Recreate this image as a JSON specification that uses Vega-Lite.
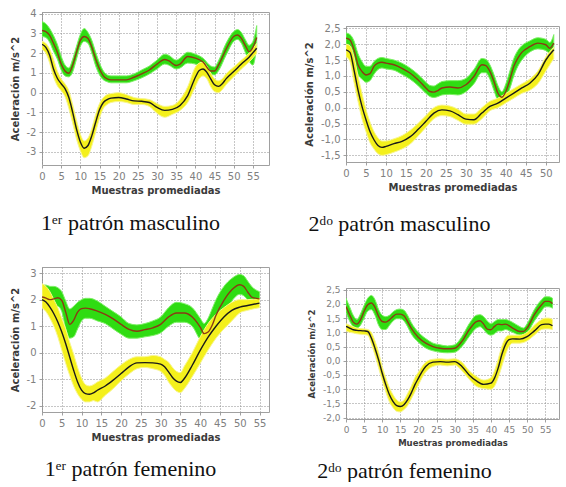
{
"$schema": "https://vega.github.io/schema/vega-lite/v6.json",
"background": "white",
"padding": {"left": 9, "top": 8, "right": 0, "bottom": 0},
"config": {
 "view": {"stroke": "#a0a0a0", "strokeWidth": 1},
 "axis": {"labelFont": "DejaVu Sans", "labelFontSize": 10, "labelColor": "#808080", "titleFont": "DejaVu Sans", "titleFontSize": 10, "titleFontWeight": "bold", "titleColor": "#3a3a3a", "grid": true, "gridColor": "#8c8c8c", "gridDash": [1, 2], "gridOpacity": 1, "gridWidth": 1, "domain": false, "tickColor": "#a0a0a0", "tickSize": 3, "labelPadding": 3, "labelOverlap": false},
 "axisX": {"labelFlush": false, "titlePadding": 4},
 "axisY": {"titlePadding": 6, "labelFlush": false},
 "title": {"font": "Liberation Serif", "fontSize": 22, "fontWeight": "normal", "color": "#111111"}
},
"datasets": {"d": [
{"p":1,"s":"g","x":0,"m":3.15,"lo":2.85,"hi":3.6},
{"p":1,"s":"g","x":1,"m":3.1,"lo":2.8,"hi":3.5},
{"p":1,"s":"g","x":2,"m":2.9,"lo":2.55,"hi":3.25},
{"p":1,"s":"g","x":3,"m":2.5,"lo":2.1,"hi":2.9},
{"p":1,"s":"g","x":4,"m":2.05,"lo":1.7,"hi":2.45},
{"p":1,"s":"g","x":5,"m":1.45,"lo":1.15,"hi":1.85},
{"p":1,"s":"g","x":6,"m":1.1,"lo":0.85,"hi":1.4},
{"p":1,"s":"g","x":7,"m":0.98,"lo":0.8,"hi":1.25},
{"p":1,"s":"g","x":8,"m":1.4,"lo":1.05,"hi":1.7},
{"p":1,"s":"g","x":9,"m":2.05,"lo":1.7,"hi":2.35},
{"p":1,"s":"g","x":10,"m":2.65,"lo":2.35,"hi":2.95},
{"p":1,"s":"g","x":11,"m":2.85,"lo":2.6,"hi":3.25},
{"p":1,"s":"g","x":12,"m":2.75,"lo":2.5,"hi":3.05},
{"p":1,"s":"g","x":13,"m":2.3,"lo":2.0,"hi":2.65},
{"p":1,"s":"g","x":14,"m":1.7,"lo":1.35,"hi":2.05},
{"p":1,"s":"g","x":15,"m":1.2,"lo":0.9,"hi":1.5},
{"p":1,"s":"g","x":16,"m":0.85,"lo":0.65,"hi":1.1},
{"p":1,"s":"g","x":17,"m":0.7,"lo":0.55,"hi":0.9},
{"p":1,"s":"g","x":18,"m":0.65,"lo":0.5,"hi":0.85},
{"p":1,"s":"g","x":20,"m":0.65,"lo":0.5,"hi":0.85},
{"p":1,"s":"g","x":22,"m":0.65,"lo":0.5,"hi":0.85},
{"p":1,"s":"g","x":24,"m":0.78,"lo":0.6,"hi":0.95},
{"p":1,"s":"g","x":26,"m":0.95,"lo":0.75,"hi":1.15},
{"p":1,"s":"g","x":28,"m":1.15,"lo":0.95,"hi":1.35},
{"p":1,"s":"g","x":30,"m":1.45,"lo":1.2,"hi":1.65},
{"p":1,"s":"g","x":32,"m":1.68,"lo":1.45,"hi":1.95},
{"p":1,"s":"g","x":33,"m":1.62,"lo":1.4,"hi":1.9},
{"p":1,"s":"g","x":35,"m":1.38,"lo":1.2,"hi":1.65},
{"p":1,"s":"g","x":36,"m":1.45,"lo":1.25,"hi":1.75},
{"p":1,"s":"g","x":38,"m":1.83,"lo":1.5,"hi":2.05},
{"p":1,"s":"g","x":40,"m":1.75,"lo":1.45,"hi":1.95},
{"p":1,"s":"g","x":42,"m":1.55,"lo":1.3,"hi":1.75},
{"p":1,"s":"g","x":44,"m":1.1,"lo":0.95,"hi":1.35},
{"p":1,"s":"g","x":45,"m":1.1,"lo":0.9,"hi":1.3},
{"p":1,"s":"g","x":46,"m":1.38,"lo":1.1,"hi":1.6},
{"p":1,"s":"g","x":48,"m":2.2,"lo":1.9,"hi":2.5},
{"p":1,"s":"g","x":50,"m":2.85,"lo":2.6,"hi":3.1},
{"p":1,"s":"g","x":51,"m":2.92,"lo":2.7,"hi":3.2},
{"p":1,"s":"g","x":52,"m":2.75,"lo":2.5,"hi":3.05},
{"p":1,"s":"g","x":53,"m":2.4,"lo":2.05,"hi":2.7},
{"p":1,"s":"g","x":54,"m":2.08,"lo":1.6,"hi":2.4},
{"p":1,"s":"g","x":55,"m":2.3,"lo":1.4,"hi":2.6},
{"p":1,"s":"g","x":56,"m":2.8,"lo":2.3,"hi":3.4},
{"p":1,"s":"y","x":0,"m":2.45,"lo":2.2,"hi":2.6},
{"p":1,"s":"y","x":1,"m":2.3,"lo":2.0,"hi":2.5},
{"p":1,"s":"y","x":2,"m":1.9,"lo":1.5,"hi":2.2},
{"p":1,"s":"y","x":3,"m":1.2,"lo":0.8,"hi":1.7},
{"p":1,"s":"y","x":4,"m":0.73,"lo":0.35,"hi":1.1},
{"p":1,"s":"y","x":5,"m":0.45,"lo":0.1,"hi":0.7},
{"p":1,"s":"y","x":6,"m":0.2,"lo":-0.2,"hi":0.45},
{"p":1,"s":"y","x":7,"m":-0.25,"lo":-0.8,"hi":0.1},
{"p":1,"s":"y","x":8,"m":-1.0,"lo":-1.55,"hi":-0.6},
{"p":1,"s":"y","x":9,"m":-1.85,"lo":-2.35,"hi":-1.4},
{"p":1,"s":"y","x":10,"m":-2.5,"lo":-2.95,"hi":-2.1},
{"p":1,"s":"y","x":11,"m":-2.82,"lo":-3.3,"hi":-2.45},
{"p":1,"s":"y","x":12,"m":-2.68,"lo":-3.2,"hi":-2.3},
{"p":1,"s":"y","x":13,"m":-2.18,"lo":-2.7,"hi":-1.8},
{"p":1,"s":"y","x":14,"m":-1.5,"lo":-2.0,"hi":-1.1},
{"p":1,"s":"y","x":15,"m":-0.87,"lo":-1.3,"hi":-0.55},
{"p":1,"s":"y","x":16,"m":-0.5,"lo":-0.8,"hi":-0.25},
{"p":1,"s":"y","x":17,"m":-0.35,"lo":-0.6,"hi":-0.1},
{"p":1,"s":"y","x":18,"m":-0.28,"lo":-0.5,"hi":-0.05},
{"p":1,"s":"y","x":20,"m":-0.25,"lo":-0.45,"hi":0.0},
{"p":1,"s":"y","x":22,"m":-0.32,"lo":-0.5,"hi":-0.1},
{"p":1,"s":"y","x":24,"m":-0.42,"lo":-0.6,"hi":-0.25},
{"p":1,"s":"y","x":26,"m":-0.44,"lo":-0.6,"hi":-0.3},
{"p":1,"s":"y","x":28,"m":-0.5,"lo":-0.7,"hi":-0.35},
{"p":1,"s":"y","x":30,"m":-0.75,"lo":-1.05,"hi":-0.55},
{"p":1,"s":"y","x":32,"m":-0.9,"lo":-1.25,"hi":-0.7},
{"p":1,"s":"y","x":34,"m":-0.85,"lo":-1.1,"hi":-0.65},
{"p":1,"s":"y","x":36,"m":-0.65,"lo":-0.9,"hi":-0.35},
{"p":1,"s":"y","x":38,"m":-0.15,"lo":-0.5,"hi":0.3},
{"p":1,"s":"y","x":40,"m":0.78,"lo":0.3,"hi":1.3},
{"p":1,"s":"y","x":41,"m":1.12,"lo":0.7,"hi":1.5},
{"p":1,"s":"y","x":42,"m":1.2,"lo":0.85,"hi":1.55},
{"p":1,"s":"y","x":43,"m":1.03,"lo":0.7,"hi":1.35},
{"p":1,"s":"y","x":44,"m":0.7,"lo":0.3,"hi":1.0},
{"p":1,"s":"y","x":45,"m":0.4,"lo":0.05,"hi":0.7},
{"p":1,"s":"y","x":46,"m":0.32,"lo":0.0,"hi":0.6},
{"p":1,"s":"y","x":47,"m":0.45,"lo":0.15,"hi":0.7},
{"p":1,"s":"y","x":48,"m":0.7,"lo":0.4,"hi":0.95},
{"p":1,"s":"y","x":50,"m":1.07,"lo":0.8,"hi":1.3},
{"p":1,"s":"y","x":52,"m":1.45,"lo":1.2,"hi":1.65},
{"p":1,"s":"y","x":54,"m":1.8,"lo":1.55,"hi":2.0},
{"p":1,"s":"y","x":56,"m":2.25,"lo":2.0,"hi":2.5},
{"p":2,"s":"g","x":0,"m":2.19,"lo":1.95,"hi":2.35},
{"p":2,"s":"g","x":1,"m":2.13,"lo":1.85,"hi":2.3},
{"p":2,"s":"g","x":2,"m":1.82,"lo":1.5,"hi":2.1},
{"p":2,"s":"g","x":3,"m":1.35,"lo":1.05,"hi":1.7},
{"p":2,"s":"g","x":4,"m":1.14,"lo":0.9,"hi":1.45},
{"p":2,"s":"g","x":5,"m":1.03,"lo":0.8,"hi":1.3},
{"p":2,"s":"g","x":6,"m":1.07,"lo":0.85,"hi":1.3},
{"p":2,"s":"g","x":7,"m":1.3,"lo":1.05,"hi":1.45},
{"p":2,"s":"g","x":8,"m":1.4,"lo":1.2,"hi":1.55},
{"p":2,"s":"g","x":9,"m":1.43,"lo":1.25,"hi":1.58},
{"p":2,"s":"g","x":10,"m":1.4,"lo":1.22,"hi":1.55},
{"p":2,"s":"g","x":12,"m":1.35,"lo":1.18,"hi":1.5},
{"p":2,"s":"g","x":14,"m":1.24,"lo":1.05,"hi":1.4},
{"p":2,"s":"g","x":16,"m":1.09,"lo":0.9,"hi":1.25},
{"p":2,"s":"g","x":18,"m":0.88,"lo":0.7,"hi":1.05},
{"p":2,"s":"g","x":20,"m":0.62,"lo":0.45,"hi":0.8},
{"p":2,"s":"g","x":21,"m":0.51,"lo":0.35,"hi":0.7},
{"p":2,"s":"g","x":22,"m":0.49,"lo":0.32,"hi":0.68},
{"p":2,"s":"g","x":23,"m":0.54,"lo":0.35,"hi":0.75},
{"p":2,"s":"g","x":24,"m":0.62,"lo":0.4,"hi":0.82},
{"p":2,"s":"g","x":26,"m":0.65,"lo":0.42,"hi":0.85},
{"p":2,"s":"g","x":28,"m":0.62,"lo":0.4,"hi":0.85},
{"p":2,"s":"g","x":30,"m":0.72,"lo":0.5,"hi":0.92},
{"p":2,"s":"g","x":32,"m":0.98,"lo":0.75,"hi":1.2},
{"p":2,"s":"g","x":34,"m":1.35,"lo":1.1,"hi":1.55},
{"p":2,"s":"g","x":35,"m":1.32,"lo":1.1,"hi":1.52},
{"p":2,"s":"g","x":36,"m":1.14,"lo":0.9,"hi":1.35},
{"p":2,"s":"g","x":37,"m":0.83,"lo":0.55,"hi":1.05},
{"p":2,"s":"g","x":38,"m":0.46,"lo":0.25,"hi":0.7},
{"p":2,"s":"g","x":39,"m":0.33,"lo":0.22,"hi":0.5},
{"p":2,"s":"g","x":40,"m":0.51,"lo":0.3,"hi":0.75},
{"p":2,"s":"g","x":41,"m":0.88,"lo":0.6,"hi":1.15},
{"p":2,"s":"g","x":42,"m":1.3,"lo":1.0,"hi":1.55},
{"p":2,"s":"g","x":43,"m":1.56,"lo":1.3,"hi":1.8},
{"p":2,"s":"g","x":44,"m":1.74,"lo":1.5,"hi":1.95},
{"p":2,"s":"g","x":46,"m":1.92,"lo":1.75,"hi":2.1},
{"p":2,"s":"g","x":48,"m":2.03,"lo":1.85,"hi":2.2},
{"p":2,"s":"g","x":50,"m":1.98,"lo":1.8,"hi":2.15},
{"p":2,"s":"g","x":51,"m":1.87,"lo":1.7,"hi":2.05},
{"p":2,"s":"g","x":52,"m":2.03,"lo":1.8,"hi":2.3},
{"p":2,"s":"y","x":0,"m":1.82,"lo":1.6,"hi":2.0},
{"p":2,"s":"y","x":1,"m":1.74,"lo":1.45,"hi":1.95},
{"p":2,"s":"y","x":2,"m":1.19,"lo":0.8,"hi":1.6},
{"p":2,"s":"y","x":3,"m":0.56,"lo":0.2,"hi":1.0},
{"p":2,"s":"y","x":4,"m":0.04,"lo":-0.35,"hi":0.45},
{"p":2,"s":"y","x":5,"m":-0.38,"lo":-0.75,"hi":-0.05},
{"p":2,"s":"y","x":6,"m":-0.75,"lo":-1.1,"hi":-0.45},
{"p":2,"s":"y","x":7,"m":-1.01,"lo":-1.3,"hi":-0.75},
{"p":2,"s":"y","x":8,"m":-1.19,"lo":-1.45,"hi":-0.95},
{"p":2,"s":"y","x":9,"m":-1.25,"lo":-1.5,"hi":-1.05},
{"p":2,"s":"y","x":10,"m":-1.22,"lo":-1.48,"hi":-1.05},
{"p":2,"s":"y","x":12,"m":-1.13,"lo":-1.4,"hi":-0.98},
{"p":2,"s":"y","x":14,"m":-1.06,"lo":-1.3,"hi":-0.88},
{"p":2,"s":"y","x":16,"m":-0.92,"lo":-1.15,"hi":-0.72},
{"p":2,"s":"y","x":18,"m":-0.69,"lo":-0.9,"hi":-0.5},
{"p":2,"s":"y","x":20,"m":-0.43,"lo":-0.62,"hi":-0.25},
{"p":2,"s":"y","x":22,"m":-0.17,"lo":-0.35,"hi":0.0},
{"p":2,"s":"y","x":24,"m":-0.07,"lo":-0.25,"hi":0.08},
{"p":2,"s":"y","x":26,"m":-0.1,"lo":-0.28,"hi":0.05},
{"p":2,"s":"y","x":28,"m":-0.22,"lo":-0.4,"hi":-0.05},
{"p":2,"s":"y","x":30,"m":-0.36,"lo":-0.52,"hi":-0.2},
{"p":2,"s":"y","x":32,"m":-0.38,"lo":-0.52,"hi":-0.2},
{"p":2,"s":"y","x":34,"m":-0.17,"lo":-0.35,"hi":0.0},
{"p":2,"s":"y","x":36,"m":0.04,"lo":-0.1,"hi":0.2},
{"p":2,"s":"y","x":38,"m":0.14,"lo":0.0,"hi":0.3},
{"p":2,"s":"y","x":40,"m":0.3,"lo":0.15,"hi":0.45},
{"p":2,"s":"y","x":42,"m":0.46,"lo":0.3,"hi":0.6},
{"p":2,"s":"y","x":44,"m":0.62,"lo":0.45,"hi":0.75},
{"p":2,"s":"y","x":46,"m":0.77,"lo":0.55,"hi":0.9},
{"p":2,"s":"y","x":48,"m":1.03,"lo":0.75,"hi":1.15},
{"p":2,"s":"y","x":50,"m":1.5,"lo":1.15,"hi":1.6},
{"p":2,"s":"y","x":52,"m":1.82,"lo":1.55,"hi":1.9},
{"p":3,"s":"g","x":0,"m":2.1,"lo":1.75,"hi":2.55},
{"p":3,"s":"g","x":1,"m":2.06,"lo":1.7,"hi":2.55},
{"p":3,"s":"g","x":2,"m":2.0,"lo":1.7,"hi":2.5},
{"p":3,"s":"g","x":3,"m":2.03,"lo":1.75,"hi":2.5},
{"p":3,"s":"g","x":4,"m":2.07,"lo":1.75,"hi":2.45},
{"p":3,"s":"g","x":5,"m":1.97,"lo":1.55,"hi":2.3},
{"p":3,"s":"g","x":6,"m":1.53,"lo":0.9,"hi":1.95},
{"p":3,"s":"g","x":7,"m":1.07,"lo":0.55,"hi":1.65},
{"p":3,"s":"g","x":8,"m":1.22,"lo":0.6,"hi":1.75},
{"p":3,"s":"g","x":9,"m":1.53,"lo":0.9,"hi":1.9},
{"p":3,"s":"g","x":10,"m":1.66,"lo":1.2,"hi":2.0},
{"p":3,"s":"g","x":11,"m":1.68,"lo":1.3,"hi":2.05},
{"p":3,"s":"g","x":12,"m":1.66,"lo":1.3,"hi":2.05},
{"p":3,"s":"g","x":14,"m":1.57,"lo":1.2,"hi":1.95},
{"p":3,"s":"g","x":16,"m":1.45,"lo":1.1,"hi":1.75},
{"p":3,"s":"g","x":18,"m":1.28,"lo":0.9,"hi":1.55},
{"p":3,"s":"g","x":20,"m":1.07,"lo":0.7,"hi":1.35},
{"p":3,"s":"g","x":22,"m":0.88,"lo":0.55,"hi":1.1},
{"p":3,"s":"g","x":24,"m":0.81,"lo":0.55,"hi":1.05},
{"p":3,"s":"g","x":26,"m":0.87,"lo":0.6,"hi":1.1},
{"p":3,"s":"g","x":28,"m":0.94,"lo":0.65,"hi":1.2},
{"p":3,"s":"g","x":30,"m":1.07,"lo":0.75,"hi":1.35},
{"p":3,"s":"g","x":32,"m":1.35,"lo":1.0,"hi":1.7},
{"p":3,"s":"g","x":34,"m":1.5,"lo":1.15,"hi":1.9},
{"p":3,"s":"g","x":36,"m":1.5,"lo":1.15,"hi":1.85},
{"p":3,"s":"g","x":38,"m":1.35,"lo":1.0,"hi":1.7},
{"p":3,"s":"g","x":40,"m":0.97,"lo":0.5,"hi":1.3},
{"p":3,"s":"g","x":41,"m":0.72,"lo":0.4,"hi":1.1},
{"p":3,"s":"g","x":42,"m":0.78,"lo":0.45,"hi":1.3},
{"p":3,"s":"g","x":43,"m":1.03,"lo":0.6,"hi":1.65},
{"p":3,"s":"g","x":44,"m":1.41,"lo":0.9,"hi":2.0},
{"p":3,"s":"g","x":46,"m":1.97,"lo":1.5,"hi":2.5},
{"p":3,"s":"g","x":48,"m":2.37,"lo":1.95,"hi":2.8},
{"p":3,"s":"g","x":50,"m":2.56,"lo":2.2,"hi":2.95},
{"p":3,"s":"g","x":51,"m":2.5,"lo":2.15,"hi":2.9},
{"p":3,"s":"g","x":52,"m":2.29,"lo":2.0,"hi":2.7},
{"p":3,"s":"g","x":53,"m":2.1,"lo":1.85,"hi":2.5},
{"p":3,"s":"g","x":55,"m":2.03,"lo":1.85,"hi":2.3},
{"p":3,"s":"y","x":0,"m":2.0,"lo":1.7,"hi":2.6},
{"p":3,"s":"y","x":1,"m":1.91,"lo":1.55,"hi":2.5},
{"p":3,"s":"y","x":2,"m":1.72,"lo":1.3,"hi":2.3},
{"p":3,"s":"y","x":3,"m":1.47,"lo":1.0,"hi":2.0},
{"p":3,"s":"y","x":4,"m":1.16,"lo":0.6,"hi":1.7},
{"p":3,"s":"y","x":5,"m":0.78,"lo":0.1,"hi":1.3},
{"p":3,"s":"y","x":6,"m":0.34,"lo":-0.4,"hi":0.9},
{"p":3,"s":"y","x":7,"m":-0.16,"lo":-0.85,"hi":0.4},
{"p":3,"s":"y","x":8,"m":-0.66,"lo":-1.25,"hi":-0.05},
{"p":3,"s":"y","x":9,"m":-1.1,"lo":-1.55,"hi":-0.55},
{"p":3,"s":"y","x":10,"m":-1.41,"lo":-1.75,"hi":-0.95},
{"p":3,"s":"y","x":11,"m":-1.54,"lo":-1.85,"hi":-1.2},
{"p":3,"s":"y","x":12,"m":-1.56,"lo":-1.85,"hi":-1.25},
{"p":3,"s":"y","x":13,"m":-1.51,"lo":-1.8,"hi":-1.2},
{"p":3,"s":"y","x":14,"m":-1.41,"lo":-1.85,"hi":-1.1},
{"p":3,"s":"y","x":16,"m":-1.25,"lo":-1.6,"hi":-0.95},
{"p":3,"s":"y","x":18,"m":-1.03,"lo":-1.35,"hi":-0.7},
{"p":3,"s":"y","x":20,"m":-0.78,"lo":-1.05,"hi":-0.45},
{"p":3,"s":"y","x":22,"m":-0.53,"lo":-0.8,"hi":-0.25},
{"p":3,"s":"y","x":24,"m":-0.38,"lo":-0.6,"hi":-0.15},
{"p":3,"s":"y","x":26,"m":-0.37,"lo":-0.55,"hi":-0.15},
{"p":3,"s":"y","x":28,"m":-0.38,"lo":-0.6,"hi":-0.1},
{"p":3,"s":"y","x":30,"m":-0.43,"lo":-0.7,"hi":-0.15},
{"p":3,"s":"y","x":31,"m":-0.53,"lo":-0.85,"hi":-0.25},
{"p":3,"s":"y","x":32,"m":-0.72,"lo":-1.1,"hi":-0.35},
{"p":3,"s":"y","x":33,"m":-0.93,"lo":-1.3,"hi":-0.55},
{"p":3,"s":"y","x":34,"m":-1.07,"lo":-1.45,"hi":-0.7},
{"p":3,"s":"y","x":35,"m":-1.12,"lo":-1.5,"hi":-0.75},
{"p":3,"s":"y","x":36,"m":-0.97,"lo":-1.35,"hi":-0.5},
{"p":3,"s":"y","x":38,"m":-0.47,"lo":-0.9,"hi":0.0},
{"p":3,"s":"y","x":40,"m":0.09,"lo":-0.4,"hi":0.6},
{"p":3,"s":"y","x":42,"m":0.59,"lo":0.1,"hi":1.1},
{"p":3,"s":"y","x":44,"m":1.0,"lo":0.55,"hi":1.45},
{"p":3,"s":"y","x":46,"m":1.35,"lo":0.9,"hi":1.7},
{"p":3,"s":"y","x":48,"m":1.6,"lo":1.2,"hi":1.9},
{"p":3,"s":"y","x":50,"m":1.72,"lo":1.5,"hi":2.0},
{"p":3,"s":"y","x":52,"m":1.78,"lo":1.6,"hi":2.0},
{"p":3,"s":"y","x":55,"m":1.87,"lo":1.7,"hi":2.05},
{"p":4,"s":"g","x":0,"m":1.91,"lo":1.7,"hi":2.2},
{"p":4,"s":"g","x":1,"m":1.62,"lo":1.4,"hi":1.9},
{"p":4,"s":"g","x":2,"m":1.36,"lo":1.2,"hi":1.6},
{"p":4,"s":"g","x":3,"m":1.29,"lo":1.15,"hi":1.45},
{"p":4,"s":"g","x":4,"m":1.44,"lo":1.25,"hi":1.65},
{"p":4,"s":"g","x":5,"m":1.74,"lo":1.5,"hi":1.95},
{"p":4,"s":"g","x":6,"m":1.97,"lo":1.75,"hi":2.2},
{"p":4,"s":"g","x":7,"m":2.03,"lo":1.8,"hi":2.3},
{"p":4,"s":"g","x":8,"m":1.88,"lo":1.6,"hi":2.15},
{"p":4,"s":"g","x":9,"m":1.56,"lo":1.25,"hi":1.8},
{"p":4,"s":"g","x":10,"m":1.38,"lo":1.1,"hi":1.6},
{"p":4,"s":"g","x":11,"m":1.36,"lo":1.1,"hi":1.55},
{"p":4,"s":"g","x":12,"m":1.44,"lo":1.25,"hi":1.6},
{"p":4,"s":"g","x":13,"m":1.56,"lo":1.4,"hi":1.72},
{"p":4,"s":"g","x":14,"m":1.64,"lo":1.48,"hi":1.8},
{"p":4,"s":"g","x":15,"m":1.64,"lo":1.48,"hi":1.82},
{"p":4,"s":"g","x":16,"m":1.58,"lo":1.4,"hi":1.78},
{"p":4,"s":"g","x":17,"m":1.38,"lo":1.2,"hi":1.6},
{"p":4,"s":"g","x":18,"m":1.15,"lo":0.95,"hi":1.35},
{"p":4,"s":"g","x":20,"m":0.82,"lo":0.65,"hi":1.0},
{"p":4,"s":"g","x":22,"m":0.62,"lo":0.45,"hi":0.78},
{"p":4,"s":"g","x":24,"m":0.5,"lo":0.35,"hi":0.62},
{"p":4,"s":"g","x":26,"m":0.44,"lo":0.3,"hi":0.56},
{"p":4,"s":"g","x":28,"m":0.42,"lo":0.28,"hi":0.52},
{"p":4,"s":"g","x":30,"m":0.44,"lo":0.3,"hi":0.56},
{"p":4,"s":"g","x":32,"m":0.68,"lo":0.5,"hi":0.85},
{"p":4,"s":"g","x":34,"m":1.09,"lo":0.85,"hi":1.3},
{"p":4,"s":"g","x":36,"m":1.38,"lo":1.15,"hi":1.6},
{"p":4,"s":"g","x":37,"m":1.41,"lo":1.2,"hi":1.62},
{"p":4,"s":"g","x":38,"m":1.29,"lo":1.1,"hi":1.55},
{"p":4,"s":"g","x":39,"m":1.11,"lo":0.95,"hi":1.4},
{"p":4,"s":"g","x":40,"m":1.09,"lo":0.9,"hi":1.3},
{"p":4,"s":"g","x":41,"m":1.21,"lo":0.95,"hi":1.38},
{"p":4,"s":"g","x":42,"m":1.29,"lo":1.05,"hi":1.45},
{"p":4,"s":"g","x":43,"m":1.27,"lo":1.05,"hi":1.45},
{"p":4,"s":"g","x":44,"m":1.29,"lo":1.1,"hi":1.45},
{"p":4,"s":"g","x":46,"m":1.15,"lo":1.0,"hi":1.35},
{"p":4,"s":"g","x":48,"m":1.03,"lo":0.9,"hi":1.2},
{"p":4,"s":"g","x":49,"m":1.03,"lo":0.9,"hi":1.15},
{"p":4,"s":"g","x":50,"m":1.15,"lo":0.98,"hi":1.3},
{"p":4,"s":"g","x":52,"m":1.62,"lo":1.4,"hi":1.8},
{"p":4,"s":"g","x":54,"m":1.97,"lo":1.75,"hi":2.15},
{"p":4,"s":"g","x":55,"m":2.09,"lo":1.9,"hi":2.25},
{"p":4,"s":"g","x":56,"m":2.09,"lo":1.9,"hi":2.25},
{"p":4,"s":"g","x":57,"m":2.01,"lo":1.85,"hi":2.2},
{"p":4,"s":"y","x":0,"m":1.21,"lo":1.05,"hi":1.3},
{"p":4,"s":"y","x":1,"m":1.15,"lo":1.0,"hi":1.25},
{"p":4,"s":"y","x":2,"m":1.09,"lo":0.98,"hi":1.2},
{"p":4,"s":"y","x":3,"m":1.07,"lo":0.95,"hi":1.15},
{"p":4,"s":"y","x":5,"m":1.05,"lo":0.92,"hi":1.12},
{"p":4,"s":"y","x":6,"m":1.03,"lo":0.9,"hi":1.1},
{"p":4,"s":"y","x":7,"m":0.8,"lo":0.6,"hi":1.0},
{"p":4,"s":"y","x":8,"m":0.44,"lo":0.2,"hi":0.7},
{"p":4,"s":"y","x":9,"m":0.03,"lo":-0.25,"hi":0.3},
{"p":4,"s":"y","x":10,"m":-0.44,"lo":-0.7,"hi":-0.2},
{"p":4,"s":"y","x":11,"m":-0.85,"lo":-1.1,"hi":-0.6},
{"p":4,"s":"y","x":12,"m":-1.2,"lo":-1.45,"hi":-0.95},
{"p":4,"s":"y","x":13,"m":-1.44,"lo":-1.65,"hi":-1.2},
{"p":4,"s":"y","x":14,"m":-1.58,"lo":-1.78,"hi":-1.38},
{"p":4,"s":"y","x":15,"m":-1.61,"lo":-1.8,"hi":-1.45},
{"p":4,"s":"y","x":16,"m":-1.55,"lo":-1.72,"hi":-1.38},
{"p":4,"s":"y","x":17,"m":-1.38,"lo":-1.58,"hi":-1.15},
{"p":4,"s":"y","x":18,"m":-1.14,"lo":-1.35,"hi":-0.9},
{"p":4,"s":"y","x":19,"m":-0.85,"lo":-1.1,"hi":-0.6},
{"p":4,"s":"y","x":20,"m":-0.61,"lo":-0.85,"hi":-0.4},
{"p":4,"s":"y","x":21,"m":-0.38,"lo":-0.6,"hi":-0.2},
{"p":4,"s":"y","x":22,"m":-0.2,"lo":-0.4,"hi":-0.05},
{"p":4,"s":"y","x":24,"m":-0.05,"lo":-0.2,"hi":0.05},
{"p":4,"s":"y","x":26,"m":-0.03,"lo":-0.15,"hi":0.07},
{"p":4,"s":"y","x":28,"m":-0.05,"lo":-0.18,"hi":0.05},
{"p":4,"s":"y","x":30,"m":-0.03,"lo":-0.15,"hi":0.07},
{"p":4,"s":"y","x":32,"m":-0.2,"lo":-0.35,"hi":-0.05},
{"p":4,"s":"y","x":34,"m":-0.5,"lo":-0.65,"hi":-0.35},
{"p":4,"s":"y","x":36,"m":-0.71,"lo":-0.9,"hi":-0.55},
{"p":4,"s":"y","x":38,"m":-0.83,"lo":-0.98,"hi":-0.68},
{"p":4,"s":"y","x":40,"m":-0.79,"lo":-1.0,"hi":-0.6},
{"p":4,"s":"y","x":41,"m":-0.61,"lo":-0.9,"hi":-0.35},
{"p":4,"s":"y","x":42,"m":-0.26,"lo":-0.6,"hi":0.05},
{"p":4,"s":"y","x":43,"m":0.21,"lo":-0.2,"hi":0.5},
{"p":4,"s":"y","x":44,"m":0.56,"lo":0.2,"hi":0.8},
{"p":4,"s":"y","x":45,"m":0.74,"lo":0.5,"hi":0.9},
{"p":4,"s":"y","x":46,"m":0.77,"lo":0.62,"hi":0.9},
{"p":4,"s":"y","x":48,"m":0.76,"lo":0.62,"hi":0.9},
{"p":4,"s":"y","x":50,"m":0.85,"lo":0.7,"hi":1.0},
{"p":4,"s":"y","x":52,"m":1.05,"lo":0.9,"hi":1.25},
{"p":4,"s":"y","x":54,"m":1.27,"lo":1.1,"hi":1.45},
{"p":4,"s":"y","x":55,"m":1.29,"lo":1.12,"hi":1.5},
{"p":4,"s":"y","x":56,"m":1.29,"lo":1.12,"hi":1.5},
{"p":4,"s":"y","x":57,"m":1.23,"lo":1.1,"hi":1.45}
]},
"spacing": 33,
"hconcat": [
 {"spacing": 31, "vconcat": [
  {"width": 227, "height": 153,
   "title": {"text": "1ᵉʳ patrón masculino", "orient": "bottom", "frame": "group", "anchor": "middle", "dx": -25, "offset": 18},
   "data": {"name": "d"},
   "transform": [{"filter": "datum.p == 1"}],
   "encoding": {"x": {"field": "x", "type": "quantitative", "scale": {"domain": [0, 59.2], "nice": false, "zero": false}, "axis": {"values": [0,5,10,15,20,25,30,35,40,45,50,55], "title": "Muestras promediadas", "grid": true, "labelOverlap": false}}},
   "resolve": {"scale": {"stroke": "independent"}},
   "layer": [
    {"mark": {"type": "area", "interpolate": "monotone", "clip": true, "strokeWidth": 1},
     "encoding": {"y": {"field": "lo", "type": "quantitative", "scale": {"domain": [-3.67, 4.09], "nice": false, "zero": false}, "axis": {"values": [-3,-2,-1,0,1,2,3,4], "format": "d", "labelExpr": "replace(datum.label, '−', '-')", "title": "Aceleración m/s^2", "grid": true, "labelOverlap": false}},
      "y2": {"field": "hi"},
      "fill": {"field": "s", "type": "nominal", "scale": {"domain": ["g","y"], "range": ["#2fdc12", "#f4f01c"]}, "legend": null},
      "stroke": {"field": "s", "type": "nominal", "scale": {"domain": ["g","y"], "range": ["#7cf064", "#f8f690"]}, "legend": null}}},
    {"mark": {"type": "line", "interpolate": "monotone", "clip": true, "strokeWidth": 1.4},
     "encoding": {"y": {"field": "m", "type": "quantitative", "axis": {"values": [-3,-2,-1,0,1,2,3,4], "format": "d", "labelExpr": "replace(datum.label, '−', '-')", "title": "Aceleración m/s^2", "grid": true, "labelOverlap": false}},
      "stroke": {"field": "s", "type": "nominal", "scale": {"domain": ["g","y"], "range": ["#8a3a14", "#1a1a1a"]}, "legend": null}}}
   ]},
  {"width": 227, "height": 145,
   "title": {"text": "1ᵉʳ patrón femenino", "orient": "bottom", "frame": "group", "anchor": "middle", "dx": -25, "offset": 17},
   "data": {"name": "d"},
   "transform": [{"filter": "datum.p == 3"}],
   "encoding": {"x": {"field": "x", "type": "quantitative", "scale": {"domain": [0, 57.4], "nice": false, "zero": false}, "axis": {"values": [0,5,10,15,20,25,30,35,40,45,50,55], "title": "Muestras promediadas", "grid": true, "labelOverlap": false}}},
   "resolve": {"scale": {"stroke": "independent"}},
   "layer": [
    {"mark": {"type": "area", "interpolate": "monotone", "clip": true, "strokeWidth": 1},
     "encoding": {"y": {"field": "lo", "type": "quantitative", "scale": {"domain": [-2.23, 3.23], "nice": false, "zero": false}, "axis": {"values": [-2,-1,0,1,2,3], "format": "d", "labelExpr": "replace(datum.label, '−', '-')", "title": "Aceleración m/s^2", "grid": true, "labelOverlap": false}},
      "y2": {"field": "hi"},
      "fill": {"field": "s", "type": "nominal", "scale": {"domain": ["g","y"], "range": ["#2fdc12", "#f4f01c"]}, "legend": null},
      "stroke": {"field": "s", "type": "nominal", "scale": {"domain": ["g","y"], "range": ["#7cf064", "#f8f690"]}, "legend": null}}},
    {"mark": {"type": "line", "interpolate": "monotone", "clip": true, "strokeWidth": 1.4},
     "encoding": {"y": {"field": "m", "type": "quantitative", "axis": {"values": [-2,-1,0,1,2,3], "format": "d", "labelExpr": "replace(datum.label, '−', '-')", "title": "Aceleración m/s^2", "grid": true, "labelOverlap": false}},
      "stroke": {"field": "s", "type": "nominal", "scale": {"domain": ["g","y"], "range": ["#8a3a14", "#1a1a1a"]}, "legend": null}}}
   ]}
 ]},
 {"spacing": 49, "vconcat": [
  {"spacing": 0, "vconcat": [
   {"width": 10, "height": 10, "data": {"values": [{"a": 1}]}, "mark": {"type": "point", "opacity": 0}, "encoding": {}, "view": {"stroke": null}},
   {"width": 213, "height": 136,
    "title": {"text": "2ᵈᵒ patrón masculino", "orient": "bottom", "frame": "group", "anchor": "middle", "dx": -53, "offset": 22},
    "data": {"name": "d"},
    "transform": [{"filter": "datum.p == 2"}],
    "encoding": {"x": {"field": "x", "type": "quantitative", "scale": {"domain": [0, 53.3], "nice": false, "zero": false}, "axis": {"values": [0,5,10,15,20,25,30,35,40,45,50], "title": "Muestras promediadas", "grid": true, "labelOverlap": false}}},
    "resolve": {"scale": {"stroke": "independent"}},
    "layer": [
     {"mark": {"type": "area", "interpolate": "monotone", "clip": true, "strokeWidth": 1},
      "encoding": {"y": {"field": "lo", "type": "quantitative", "scale": {"domain": [-1.71, 2.57], "nice": false, "zero": false}, "axis": {"values": [-1.5,-1,-0.5,0,0.5,1,1.5,2,2.5], "format": ".1f", "labelExpr": "replace(replace(datum.label, '.', ','), '−', '-')", "title": "Aceleración m/s^2", "grid": true, "labelOverlap": false}},
       "y2": {"field": "hi"},
       "fill": {"field": "s", "type": "nominal", "scale": {"domain": ["g","y"], "range": ["#2fdc12", "#f4f01c"]}, "legend": null},
       "stroke": {"field": "s", "type": "nominal", "scale": {"domain": ["g","y"], "range": ["#7cf064", "#f8f690"]}, "legend": null}}},
     {"mark": {"type": "line", "interpolate": "monotone", "clip": true, "strokeWidth": 1.4},
      "encoding": {"y": {"field": "m", "type": "quantitative", "axis": {"values": [-1.5,-1,-0.5,0,0.5,1,1.5,2,2.5], "format": ".1f", "labelExpr": "replace(replace(datum.label, '.', ','), '−', '-')", "title": "Aceleración m/s^2", "grid": true, "labelOverlap": false}},
       "stroke": {"field": "s", "type": "nominal", "scale": {"domain": ["g","y"], "range": ["#8a3a14", "#1a1a1a"]}, "legend": null}}}
    ]}
  ]},
  {"width": 213, "height": 131,
   "title": {"text": "2ᵈᵒ patrón femenino", "orient": "bottom", "frame": "group", "anchor": "middle", "dx": -48, "offset": 14},
   "data": {"name": "d"},
   "transform": [{"filter": "datum.p == 4"}],
   "encoding": {"x": {"field": "x", "type": "quantitative", "scale": {"domain": [0, 58.8], "nice": false, "zero": false}, "axis": {"values": [0,5,10,15,20,25,30,35,40,45,50,55], "title": "Muestras promediadas", "labelFontSize": 9, "titleFontSize": 8.5, "grid": true, "labelOverlap": false}}},
   "resolve": {"scale": {"stroke": "independent"}},
   "layer": [
    {"mark": {"type": "area", "interpolate": "monotone", "clip": true, "strokeWidth": 1},
     "encoding": {"y": {"field": "lo", "type": "quantitative", "scale": {"domain": [-2.05, 2.56], "nice": false, "zero": false}, "axis": {"values": [-2,-1.5,-1,-0.5,0,0.5,1,1.5,2,2.5], "format": ".1f", "labelExpr": "replace(replace(datum.label, '.', ','), '−', '-')", "title": "Aceleración m/s^2", "labelFontSize": 9, "titleFontSize": 8.5, "grid": true, "labelOverlap": false}},
      "y2": {"field": "hi"},
      "fill": {"field": "s", "type": "nominal", "scale": {"domain": ["g","y"], "range": ["#2fdc12", "#f4f01c"]}, "legend": null},
      "stroke": {"field": "s", "type": "nominal", "scale": {"domain": ["g","y"], "range": ["#7cf064", "#f8f690"]}, "legend": null}}},
    {"mark": {"type": "line", "interpolate": "monotone", "clip": true, "strokeWidth": 1.4},
     "encoding": {"y": {"field": "m", "type": "quantitative", "axis": {"values": [-2,-1.5,-1,-0.5,0,0.5,1,1.5,2,2.5], "format": ".1f", "labelExpr": "replace(replace(datum.label, '.', ','), '−', '-')", "title": "Aceleración m/s^2", "labelFontSize": 9, "titleFontSize": 8.5, "grid": true, "labelOverlap": false}},
      "stroke": {"field": "s", "type": "nominal", "scale": {"domain": ["g","y"], "range": ["#8a3a14", "#1a1a1a"]}, "legend": null}}}
   ]}
 ]}
]
}
